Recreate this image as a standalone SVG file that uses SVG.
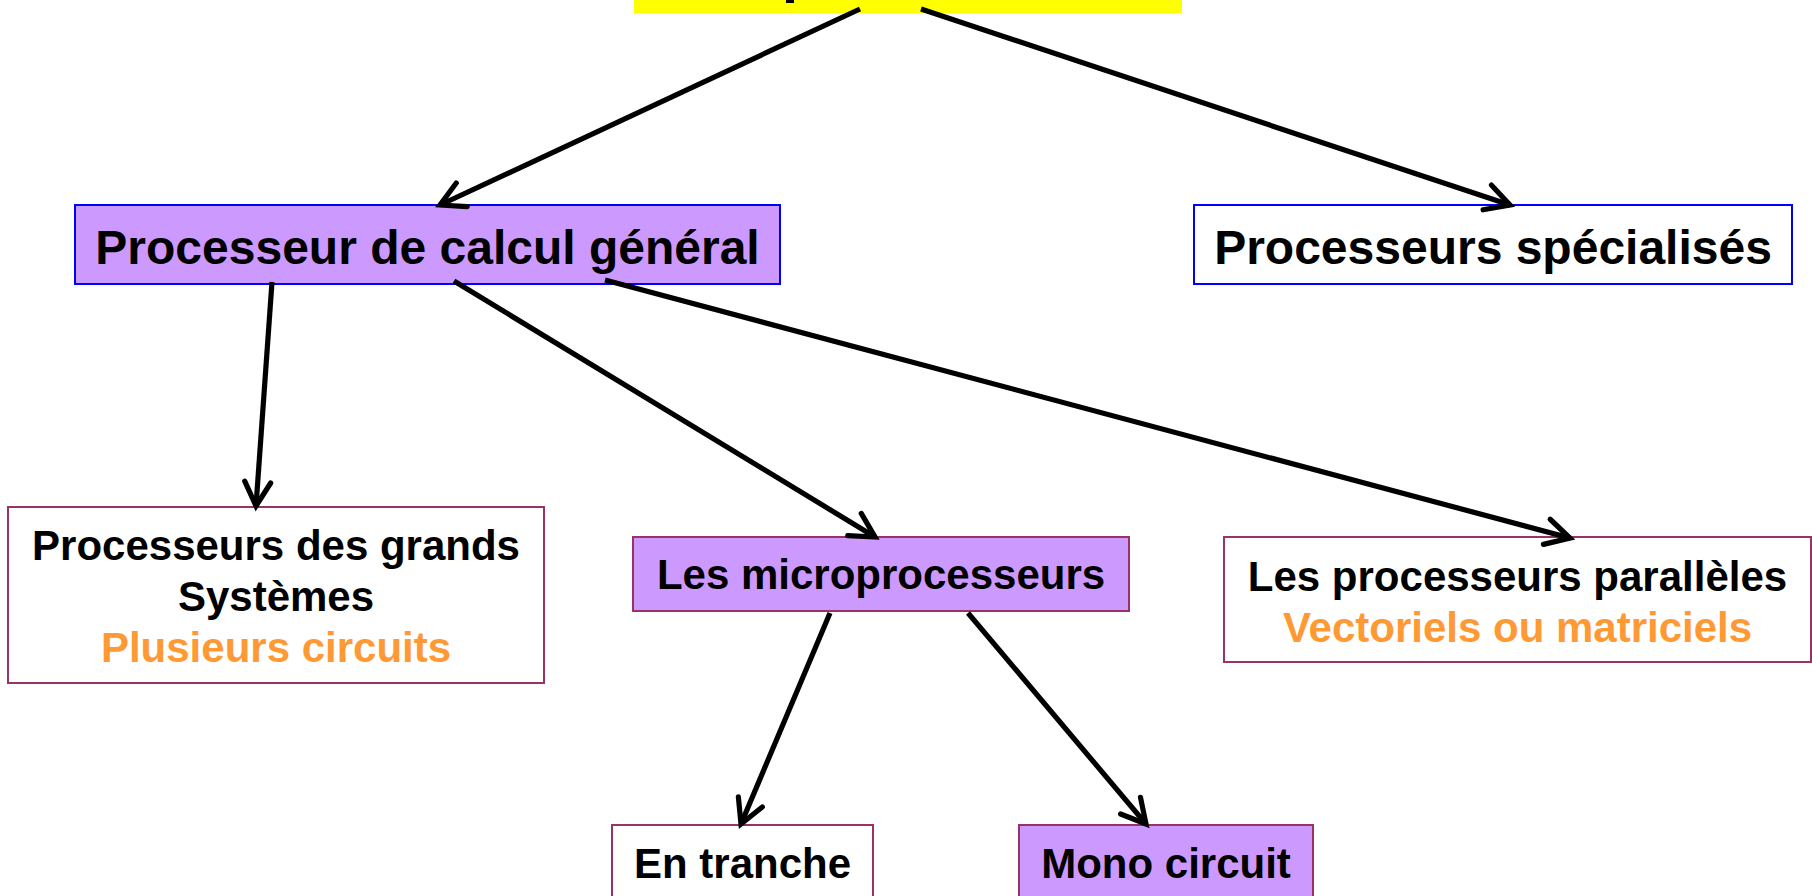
<svg xmlns="http://www.w3.org/2000/svg" width="1812" height="896" viewBox="0 0 1812 896">
<defs>
<style>
.box{stroke-width:2}
.purple{fill:#CC99FF}
.white{fill:#FFFFFF}
.blue{stroke:#0000FF}
.maroon{stroke:#993366}
text{font-family:"Liberation Sans",Arial,sans-serif;font-weight:bold;text-anchor:middle;fill:#000}
.big{font-size:48px}
.med{font-size:42px}
.orange{fill:#FF9933}
.conn line{stroke:#000;stroke-width:5.2;marker-end:url(#arr)}
</style>
<marker id="arr" markerUnits="userSpaceOnUse" markerWidth="44" markerHeight="44" viewBox="-32 -22 44 44" refX="0" refY="0" orient="auto">
<path d="M -24,-13 L 0,0 L -24,13" fill="none" stroke="#000" stroke-width="5.2" stroke-linejoin="miter" stroke-linecap="round"/>
</marker>
</defs>
<rect width="1812" height="896" fill="#FFFFFF"/>
<g id="top">
<rect x="634" y="-2" width="548" height="15" fill="#FFFF00"/>
<rect x="786" y="0" width="8" height="3" fill="#000"/>
</g>
<g id="general">
<rect class="box purple blue" x="75" y="205" width="705" height="79"/>
<text class="big" x="427.5" y="264">Processeur de calcul général</text>
</g>
<g id="specialises">
<rect class="box white blue" x="1194" y="205" width="598" height="79"/>
<text class="big" x="1493" y="264">Processeurs spécialisés</text>
</g>
<g id="grands">
<rect class="box white maroon" x="8" y="507" width="536" height="176"/>
<text class="med" x="276" y="560">Processeurs des grands</text>
<text class="med" x="276" y="611">Systèmes</text>
<text class="med orange" x="276" y="662">Plusieurs circuits</text>
</g>
<g id="micro">
<rect class="box purple maroon" x="633" y="537" width="496" height="74"/>
<text class="med" x="881" y="589">Les microprocesseurs</text>
</g>
<g id="paralleles">
<rect class="box white maroon" x="1224" y="537" width="587" height="125"/>
<text class="med" x="1517.5" y="591">Les processeurs parallèles</text>
<text class="med orange" x="1517.5" y="642">Vectoriels ou matriciels</text>
</g>
<g id="tranche">
<rect class="box white maroon" x="612" y="825" width="261" height="80"/>
<text class="med" x="742.5" y="878">En tranche</text>
</g>
<g id="mono">
<rect class="box purple maroon" x="1019" y="825" width="294" height="80"/>
<text class="med" x="1166" y="878">Mono circuit</text>
</g>
<g id="connectors" class="conn">
<line x1="860" y1="9" x2="440" y2="205"/>
<line x1="921" y1="9" x2="1510" y2="205"/>
<line x1="272" y1="282" x2="256" y2="506"/>
<line x1="454" y1="281" x2="875" y2="537"/>
<line x1="605" y1="280" x2="1570" y2="538"/>
<line x1="830" y1="613" x2="741" y2="824"/>
<line x1="968" y1="613" x2="1146" y2="824"/>
</g>
</svg>
